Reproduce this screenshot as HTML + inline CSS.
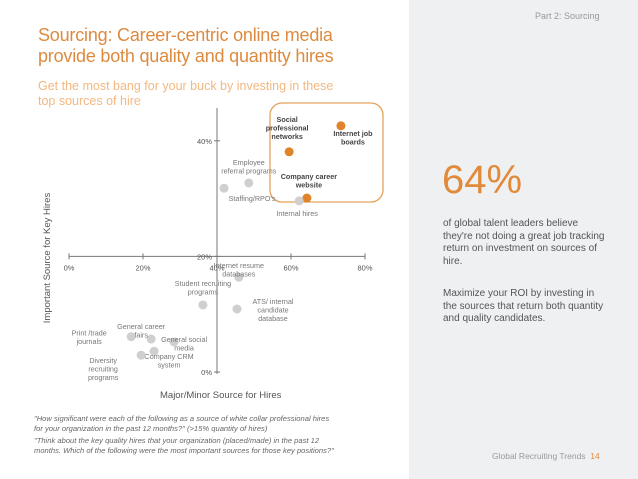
<!DOCTYPE html>
<html><head><meta charset="utf-8"><style>
body{margin:0;width:638px;height:479px;overflow:hidden;background:#fff;font-family:"Liberation Sans",sans-serif;position:relative}
.abs{position:absolute;margin:0}
</style></head><body>
<div class="abs" style="left:409px;top:0;width:229px;height:479px;background:#eff0f2"></div>
<div class="abs" style="left:535px;top:11px;font-size:9px;color:#999">Part 2: Sourcing</div>
<div class="abs" style="left:38px;top:25px;font-size:18px;line-height:21px;color:#dd8a3e;letter-spacing:-0.2px">Sourcing: Career-centric online media<br>provide both quality and quantity hires</div>
<div class="abs" style="left:38px;top:79px;font-size:12.5px;line-height:14.5px;color:#f2b880">Get the most bang for your buck by investing in these<br>top sources of hire</div>
<div class="abs" style="left:442px;top:158px;font-size:40px;color:#e08a3a">64%</div>
<div class="abs" style="left:443px;top:218px;font-size:10px;line-height:12.5px;color:#555;width:165px">of global talent leaders believe they're not doing a great job tracking return on investment on sources of hire.</div>
<div class="abs" style="left:443px;top:288px;font-size:10px;line-height:12.5px;color:#555;width:165px">Maximize your ROI by investing in the sources that return both quantity and quality candidates.</div>
<div class="abs" style="left:492px;top:451px;font-size:8.5px;color:#999">Global Recruiting Trends &nbsp;<span style="color:#e08a3a">14</span></div>
<div class="abs" style="left:160px;top:390px;font-size:9.5px;color:#555">Major/Minor Source for Hires</div>
<div class="abs" style="left:34px;top:414px;font-size:7.6px;line-height:9.5px;color:#666;font-style:italic">"How significant were each of the following as a source of white collar professional hires<br>for your organization in the past 12 months?" (&gt;15% quantity of hires)</div>
<div class="abs" style="left:34px;top:436px;font-size:7.6px;line-height:9.5px;color:#666;font-style:italic">"Think about the key quality hires that your organization (placed/made) in the past 12<br>months. Which of the following were the most important sources for those key positions?"</div>
<svg class="abs" style="left:0;top:0" width="409" height="479">
<text transform="translate(50,258) rotate(-90)" text-anchor="middle" font-size="9.5" fill="#555" font-family="Liberation Sans">Important Source for Key Hires</text>
<rect x="270" y="103" width="113" height="99" rx="12" fill="none" stroke="#e3a35c" stroke-width="1.3"/>
<g id="axes"></g><g id="pts"></g>
</svg>
<script>
const names=["Internet job boards","Social professional networks","Company career website","Internal hires","Employee referral programs","Staffing/RPO's","Internet resume databases","Student recruiting programs","ATS/ internal candidate database","Print /trade journals","General career fairs","General social media","Company CRM system","Diversity recruiting programs"];
const xVals=[73.5,59.5,64.3,62.2,48.6,41.9,45.9,36.2,45.4,16.8,22.2,28.4,23,19.5];
const yVals=[42.6,38.1,30.1,29.6,32.7,31.8,16.4,11.6,10.9,6.1,5.7,5.2,3.6,2.9];
const highlight=[1,1,1,0,0,0,0,0,0,0,0,0,0,0];
const xTicks=[0,20,40,60,80];
const yTicks=[0,20,40];
const sx=v=>69+v*3.7, sy=v=>372-v*5.78;
const NS="http://www.w3.org/2000/svg";
function mk(t,a,p){const e=document.createElementNS(NS,t);for(const k in a)e.setAttribute(k,a[k]);p.appendChild(e);return e;}
const ax=document.getElementById('axes'),pg=document.getElementById('pts');
let l=mk('line',{x1:sx(0),x2:sx(80),y1:sy(20),y2:sy(20),stroke:'#777','stroke-width':1},ax);


l=mk('line',{x1:sx(40),x2:sx(40),y1:108,y2:sy(0)+2,stroke:'#777','stroke-width':1},ax);


xTicks.forEach(v=>{mk('line',{x1:sx(v),x2:sx(v),y1:sy(20)-3,y2:sy(20)+3,stroke:'#777'},ax);
 const t=mk('text',{x:sx(v),y:sy(20)+14,'text-anchor':'middle','font-size':7.5,fill:'#555','font-family':'Liberation Sans'},ax);t.textContent=v+'%';
 
 });
yTicks.forEach(v=>{mk('line',{x1:sx(40)-3,x2:sx(40)+3,y1:sy(v),y2:sy(v),stroke:'#777'},ax);
 const t=mk('text',{x:sx(40)-5,y:sy(v)+3,'text-anchor':'end','font-size':7.5,fill:'#555','font-family':'Liberation Sans'},ax);t.textContent=v+'%';
 
 });
const labels=[[["Internet job","boards"],12,10,1],[["Social","professional","networks"],-2,-30,1],[["Company career","website"],2,-19,1],[["Internal hires"],-2,15,0],[["Employee","referral programs"],0,-18,0],[["Staffing/RPO's"],28,13,0],[["Internet resume","databases"],0,-9,0],[["Student recruiting","programs"],0,-19,0],[["ATS/ internal","candidate","database"],36,-5,0],[["Print /trade","journals"],-42,-1,0],[["General career","fairs"],-10,-10,0],[["General social","media"],10,0,0],[["Company CRM","system"],15,8,0],[["Diversity","recruiting","programs"],-38,8,0]];
xVals.forEach((xv,i)=>{
 const c=mk('circle',{cx:sx(xv),cy:sy(yVals[i]),r:4.5,fill:highlight[i]?'#e0842c':'#cfcfcf'},pg);
 
 
 const L=labels[i];const b=L[3];
 const t=mk('text',{'text-anchor':'middle','font-size':7.2,fill:b?'#444':'#777','font-weight':b?'bold':'normal','font-family':'Liberation Sans'},pg);
 L[0].forEach((s,j)=>{const ts=mk('tspan',{x:sx(xv)+L[1],y:sy(yVals[i])+L[2]+j*8.5},t);ts.textContent=s;});
 
 
});
</script>
</body></html>
